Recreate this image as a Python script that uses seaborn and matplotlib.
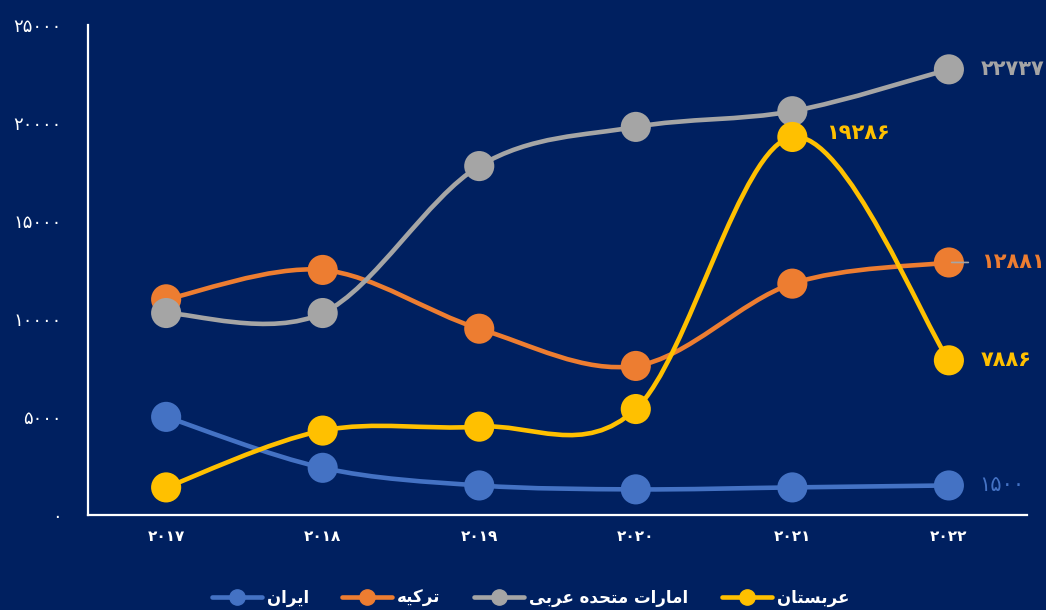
import numpy as np
import pandas as pd
import matplotlib
matplotlib.use("Agg")
import matplotlib.pyplot as plt
from matplotlib.path import Path
from matplotlib.patches import PathPatch
from matplotlib.lines import Line2D
import seaborn as sns

# data
years = [2017, 2018, 2019, 2020, 2021, 2022]
iran = [5000, 2400, 1500, 1300, 1400, 1500]
turkey = [11000, 12500, 9500, 7600, 11800, 12881]
uae = [10300, 10300, 17800, 19800, 20600, 22737]
saudi = [1400, 4300, 4500, 5400, 19286, 7886]

# labels are pre-shaped (presentation forms, visual order) since matplotlib has no bidi
names = {
    "iran": "\uFEE5\uFE8D\uFEAE\uFEF3\uFE8D",                      # ایران
    "turkey": "\uFEEA\uFEF4\uFEDB\uFEAE\uFE97",                    # ترکیه
    "uae": "\uFEF0\uFE91\uFEAE\uFECB \uFEE9\uFEAA\uFEA4\uFE98\uFEE3 \uFE95\uFE8D\uFEAD\uFE8E\uFEE3\uFE8D",  # امارات متحده عربی
    "saudi": "\uFEE5\uFE8E\uFE98\uFEB4\uFE91\uFEAE\uFECB",        # عربستان
}
colors = {"iran": "#4472C4", "turkey": "#ED7D31", "uae": "#A5A5A5", "saudi": "#FFC000"}
series = {"iran": iran, "turkey": turkey, "uae": uae, "saudi": saudi}
yticks = [0, 5000, 10000, 15000, 20000, 25000]

BG = "#002060"
FA = str.maketrans("0123456789", "۰۱۲۳۴۵۶۷۸۹")


def fa(n):
    return str(n).translate(FA)


def smooth_path(xs, ys):
    """catmull-rom style bezier like excel's smoothed line"""
    p = np.column_stack([xs, ys]).astype(float)
    pts = np.vstack([p[0], p, p[-1]])
    verts = [tuple(p[0])]
    codes = [Path.MOVETO]
    for i in range(1, len(pts) - 2):
        c1 = pts[i] + (pts[i + 1] - pts[i - 1]) / 6
        c2 = pts[i + 1] - (pts[i + 2] - pts[i]) / 6
        verts += [tuple(c1), tuple(c2), tuple(pts[i + 1])]
        codes += [Path.CURVE4] * 3
    return Path(verts, codes)


sns.set_theme(style="white")
plt.rcParams['font.family'] = ['DejaVu Sans']

fig = plt.figure(figsize=(10.46, 6.10), dpi=100, facecolor=BG)
ax = fig.add_axes([0.084, 0.156, 0.898, 0.803])
ax.set_facecolor(BG)

xpos = list(range(len(years)))
for k, key in enumerate(series):
    vals = series[key]
    col = colors[key]
    patch = PathPatch(smooth_path(xpos, vals), facecolor="none", edgecolor=col,
                      lw=3.3, zorder=2 + 2 * k, capstyle="round")
    ax.add_patch(patch)
    df = pd.DataFrame({"x": xpos, "y": vals})
    sns.scatterplot(data=df, x="x", y="y", ax=ax, color=col, s=470,
                    edgecolor="none", zorder=3 + 2 * k, legend=False)

# data labels at the right end
last = len(years) - 1
lbl = dict(textcoords="offset points", fontsize=15, va="center", ha="left")
ax.annotate(fa(iran[-1]), (last, iran[-1]), xytext=(22, 0), color=colors["iran"], **lbl)
ax.annotate(fa(turkey[-1]), (last, turkey[-1]), xytext=(23, 0), color=colors["turkey"],
            fontweight="bold", **lbl)
ax.annotate(fa(uae[-1]), (last, uae[-1]), xytext=(23, 0), color=colors["uae"],
            fontweight="bold", **lbl)
ax.annotate(fa(saudi[-1]), (last, saudi[-1]), xytext=(23, 0), color=colors["saudi"],
            fontweight="bold", **lbl)
ax.annotate(fa(saudi[4]), (4, saudi[4]), xytext=(24, 3), color=colors["saudi"],
            fontweight="bold", **lbl)
# small leader line on the turkey label
ax.annotate("", (last, turkey[-1]), xytext=(16, 0), textcoords="offset points",
            arrowprops=dict(arrowstyle="-", color="#A5A5A5", lw=1.2), zorder=20)

ax.set_xlim(-0.5, 5.5)
ax.set_ylim(0, 25000)
ax.set_xticks(xpos)
ax.set_xticklabels([fa(y) for y in years], color="white", fontsize=11, fontweight="bold")
ax.set_yticks(yticks)
ax.set_yticklabels([fa(v) for v in yticks], color="white", fontsize=13)
ax.tick_params(axis="x", length=0, pad=10)
ax.tick_params(axis="y", length=0, pad=19)
ax.set_xlabel("")
ax.set_ylabel("")

for s in ["top", "right"]:
    ax.spines[s].set_visible(False)
for s in ["left", "bottom"]:
    ax.spines[s].set_color("white")
    ax.spines[s].set_linewidth(1.6)

handles = [Line2D([0], [0], color=colors[k], lw=3.3, marker="o", markersize=11)
           for k in series]
leg = fig.legend(handles, [names[k] for k in series], loc="lower center",
                 bbox_to_anchor=(0.507, -0.02), ncol=4, frameon=False,
                 handlelength=3.0, columnspacing=2.0, handletextpad=0.3,
                 prop={"size": 12, "weight": "bold"})
for t in leg.get_texts():
    t.set_color("white")

fig.savefig("out.png", dpi=100, facecolor=BG)
